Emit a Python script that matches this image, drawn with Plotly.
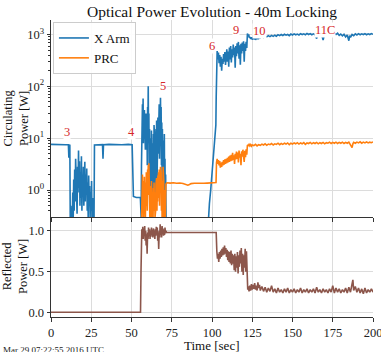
import math
import plotly.graph_objects as go

# ---------------- data ----------------
xarm_t = [0, 3, 6, 9, 10.8, 11.1, 11.4, 11.7, 12.0, 12.3, 12.6, 12.9, 13.2, 13.5, 13.8, 14.1, 14.4, 14.7,
          15.0, 15.3, 15.6, 15.9, 16.2, 16.5, 16.8, 17.1, 17.4, 17.7, 18.0, 18.3, 18.6, 18.9, 19.2, 19.5,
          19.8, 20.1, 20.4, 20.7, 21.0, 21.3, 21.6, 21.9, 22.2, 22.5, 22.8, 23.1, 23.4, 23.7, 24.0, 24.3,
          24.6, 24.9, 25.2, 25.5, 25.8, 26.1, 26.4, 26.7, 27.0, 30, 32.0, 32.3, 32.6, 36, 40, 44, 48, 50.4,
          51.2, 53, 55.5, 56.0,
          56.2, 56.4, 56.6, 56.8, 57.0, 57.2, 57.4, 57.6, 57.8, 58.0, 58.2, 58.4, 58.6, 58.8, 59.0, 59.2,
          59.4, 59.6, 59.8, 60.0, 60.2, 60.4, 60.6, 60.8, 61.0, 61.2, 61.4, 61.6, 61.8, 62.0, 62.2, 62.4,
          62.6, 62.8, 63.0, 63.2, 63.4, 63.6, 63.8, 64.0, 64.2, 64.4, 64.6, 64.8, 65.0, 65.2, 65.4, 65.6,
          65.8, 66.0, 66.2, 66.4, 66.6, 66.8, 67.0, 67.2, 67.4, 67.6, 67.8, 68.0, 68.2, 68.4, 68.6, 68.8,
          69.0, 69.2, 69.4, 69.6, 69.8, 70.0, 70.2, 70.4, 70.6, 70.8, 71.0, 71.2, 71.4, 71.6,
          97.0, 97.6, 98.4, 99.2, 100.0, 100.8, 101.5, 102.0, 102.4, 102.6, 102.8,
          103.2, 103.6, 104.0, 104.4, 104.8, 105.2, 105.6, 106.0, 106.4, 106.8, 107.2, 107.6, 108.0, 108.4,
          108.8, 109.2, 109.6, 110.0, 110.4, 110.8, 111.2, 111.6, 112.0, 112.4, 112.8, 113.2, 113.6, 114.0,
          114.4, 114.8, 115.2, 115.6, 116.0, 116.4, 116.8, 117.2, 117.6, 118.0, 118.4, 118.8, 119.2, 119.6,
          120.0, 120.4, 120.8, 121.2, 121.6, 122.0,
          122.4, 122.8, 123.2, 123.6, 124, 124.5, 125, 125.5, 126, 126.5, 127, 127.5, 128, 128.5, 129, 129.5,
          130, 131, 132, 133, 134, 135, 136, 137, 138, 139, 140, 141, 142, 143, 144, 145, 146, 147, 148, 149,
          150, 151, 152, 153, 154, 155, 156, 157, 158, 159, 160, 161, 162, 163, 164, 165, 165.5, 166, 167,
          168, 169, 169.5, 170, 171, 172, 173, 174, 175, 176, 177, 178, 179, 180, 181, 182, 183, 184, 185,
          185.5, 186, 187, 188, 189, 190, 191, 192, 193, 194, 195, 196, 197, 198, 199, 200]
xarm_w = [7.6, 7.5, 7.6, 7.5, 7.5, 4.2, 7.4, 7.3, 0.15, 0.5, 0.2, 0.45, 0.25, 0.9, 0.3, 1.6, 0.4, 2.5,
          0.6, 4.0, 0.8, 1.5, 0.35, 2.8, 0.9, 5.8, 1.1, 3.6, 0.5, 2.2, 0.7, 4.5, 0.4, 1.8,
          0.9, 2.8, 0.5, 1.2, 3.5, 0.6, 2.0, 0.8, 2.6, 0.4, 1.4, 0.3, 1.9, 0.6, 1.2, 0.3,
          0.9, 0.4, 1.5, 0.25, 0.7, 0.2, 0.5, 0.2, 7.4, 7.5, 7.5, 4.0, 7.5, 7.6, 7.5, 7.5, 7.6, 7.5,
          0.75, 0.72, 0.72, 0.3,
          3, 20, 6, 45, 10, 58, 8, 30, 25, 35, 12, 28, 6, 25, 30, 18,
          6, 30, 3, 40, 15, 100, 8, 30, 2, 15, 0.9, 10, 0.5, 6, 1.2, 14,
          0.6, 8, 0.4, 5, 1.0, 12, 0.7, 18, 2, 9, 0.5, 6, 1.5, 15, 3, 22,
          1, 10, 2.5, 25, 5, 35, 8, 45, 4, 28, 10, 60, 12, 40, 3, 20,
          1.5, 15, 0.8, 9, 0.5, 5, 1.2, 12, 0.6, 4, 0.4, 2, 0.3, 0.1,
          0.1, 0.3, 0.55, 1.0, 1.9, 3.6, 6.5, 11, 18, 60, 400,
          480, 330, 450, 280, 400, 240, 370, 200, 340, 270, 420, 300, 460, 260,
          380, 520, 300, 470, 240, 560, 330, 600, 290, 520, 360, 640, 400, 560,
          230, 600, 380, 680, 430, 720, 340, 620, 260, 660, 430, 700, 480, 740,
          300, 660, 480, 720, 550, 1050,
          920, 1000, 860, 900, 820, 880, 800, 860, 830, 900, 790, 860, 830, 880, 840, 900,
          870, 930, 880, 940, 900, 950, 910, 960, 920, 970, 930, 990, 950, 1000, 960, 1010, 970, 1000, 950, 1020,
          980, 1030, 990, 1020, 980, 1040, 1000, 1030, 990, 1050, 1000, 1040, 990, 1030, 1000, 830, 1000, 1040, 990,
          1030, 780, 1000, 1040, 990, 1030, 1000, 1040, 990, 1050, 1000, 1060, 960, 1020, 940, 1010, 900, 980, 760,
          950, 880, 1000, 950, 1030, 980, 1040, 990, 1030, 1000, 1040, 990, 1030, 1000, 1040, 1010]

prc_t = [56.0, 56.2, 56.4, 56.6, 56.8, 57.0, 57.2, 57.4, 57.6, 57.8, 58.0, 58.2, 58.4, 58.6, 58.8, 59.0,
         59.2, 59.4, 59.6, 59.8, 60.0, 60.2, 60.4, 60.6, 60.8, 61.0, 61.2, 61.4, 61.6, 61.8, 62.0, 62.2,
         62.4, 62.6, 62.8, 63.0, 63.2, 63.4, 63.6, 63.8, 64.0, 64.2, 64.4, 64.6, 64.8, 65.0, 65.2, 65.4,
         65.6, 65.8, 66.0, 66.2, 66.4, 66.6, 66.8, 67.0, 67.2, 67.4, 67.6, 67.8, 68.0, 68.2, 68.4, 68.6,
         68.8, 69.0, 69.2, 69.4, 69.6, 69.8, 70.0, 70.2, 70.4, 70.6, 70.8, 71.0, 71.2, 71.4, 72.0,
         74, 76, 78, 80, 82, 84, 85, 86, 87, 89, 91, 93, 95, 97, 99, 101, 102.5,
         102.8, 103.2, 103.6, 104.0, 104.4, 104.8, 105.2, 105.6, 106.0, 106.4, 106.8, 107.2, 107.6, 108.0,
         108.4, 108.8, 109.2, 109.6, 110.0, 110.4, 110.8, 111.2, 111.6, 112.0, 112.4, 112.8, 113.2, 113.6,
         114.0, 114.4, 114.8, 115.2, 115.6, 116.0, 116.4, 116.8, 117.2, 117.6, 118.0, 118.4, 118.8, 119.2,
         119.6, 120.0, 120.4, 120.8, 121.2, 121.6, 122.0,
         122.5, 123, 123.5, 124, 124.5, 125, 126, 127, 128, 129, 130, 131, 132, 133, 134, 135, 136, 137,
         138, 139, 140, 141, 142, 143, 144, 145, 146, 147, 148, 149, 150, 151, 152, 153, 154, 155, 156,
         157, 158, 159, 160, 161, 162, 163, 164, 165, 166, 167, 168, 169, 170, 171, 172, 173, 174, 175,
         176, 177, 178, 179, 180, 181, 182, 183, 184, 185, 186, 187, 187.5, 188, 189, 190, 191, 192, 193,
         194, 195, 196, 197, 198, 199, 200]
prc_w = [0.1, 0.4, 1.2, 0.3, 2.0, 0.5, 1.5, 0.25, 1.0, 0.4, 1.8, 0.3, 0.9, 0.2, 1.4, 0.5,
         2.2, 0.6, 1.6, 0.4, 2.5, 0.8, 3.0, 1.0, 3.3, 0.6, 2.4, 0.3, 1.2, 0.25, 0.9, 0.4,
         1.5, 0.3, 0.8, 0.25, 0.6, 0.3, 1.1, 0.4, 1.4, 0.5, 0.9, 0.3, 0.7, 0.4, 1.3, 0.5,
         1.7, 0.4, 1.0, 0.6, 1.9, 0.7, 2.2, 0.8, 2.5, 0.5, 1.6, 0.9, 2.8, 1.0, 2.2, 0.4,
         1.5, 0.3, 1.2, 0.25, 2.8, 0.5, 1.6, 0.3, 1.0, 0.2, 0.8, 0.3, 0.7, 1.3, 1.38,
         1.36, 1.38, 1.35, 1.37, 1.34, 1.3, 1.24, 1.28, 1.33, 1.35, 1.34, 1.36, 1.35, 1.36, 1.37, 1.36, 1.4,
         3.4, 4.0, 3.2, 3.8, 3.0, 3.6, 2.7, 3.4, 2.8, 3.5, 3.0, 3.8, 3.1, 3.9,
         3.2, 4.0, 3.3, 4.2, 3.4, 4.4, 3.5, 4.6, 3.6, 4.8, 3.7, 5.2, 3.8, 4.7,
         3.2, 5.0, 3.9, 5.5, 4.0, 5.3, 3.4, 5.8, 4.2, 5.0, 3.0, 5.6, 4.4, 6.0,
         4.5, 3.5, 5.7, 4.3, 6.1, 4.8, 7.4,
         7.2, 7.6, 7.1, 7.5, 7.0, 7.4, 7.2, 7.6, 7.1, 7.5, 7.3, 7.7, 7.4, 7.8, 7.3, 7.7, 7.5, 7.9,
         7.4, 7.8, 7.6, 8.0, 7.5, 7.9, 7.6, 8.0, 7.7, 8.1, 7.5, 8.0, 7.7, 8.1, 7.8, 8.2, 7.7, 8.1, 7.8,
         8.2, 7.6, 8.1, 7.9, 8.3, 7.8, 8.2, 7.9, 8.3, 7.8, 8.2, 7.9, 8.3, 7.8, 8.2, 8.0, 8.4, 7.9, 8.3,
         8.0, 8.4, 7.9, 8.3, 8.0, 8.4, 7.9, 8.3, 8.0, 8.4, 7.6, 6.6, 7.8, 8.3, 8.0, 8.4, 8.1, 8.5, 8.0,
         8.4, 8.1, 8.5, 8.1, 8.4, 8.2, 8.5]

refl_t = [0, 20, 40, 55.6, 55.9, 56.2,
          56.4, 56.7, 57.0, 57.3, 57.6, 57.9, 58.2, 58.5, 58.8, 59.1, 59.4, 59.7, 60.0, 60.3, 60.6, 60.9,
          61.2, 61.5, 61.8, 62.1, 62.4, 62.7, 63.0, 63.3, 63.6, 63.9, 64.2, 64.5, 64.8, 65.1, 65.4, 65.7,
          66.0, 66.3, 66.6, 66.9, 67.2, 67.5, 67.8, 68.1, 68.4, 68.7, 69.0, 69.3, 69.6, 69.9, 70.2, 70.5,
          70.8, 71.1, 71.4, 71.8,
          75, 80, 85, 90, 95, 100, 102.6, 103.0,
          103.4, 103.8, 104.2, 104.6, 105.0, 105.4, 105.8, 106.2, 106.6, 107.0, 107.4, 107.8, 108.2, 108.6,
          109.0, 109.4, 109.8, 110.2, 110.6, 111.0, 111.4, 111.8, 112.2, 112.6, 113.0, 113.4, 113.8, 114.2,
          114.6, 115.0, 115.4, 115.8, 116.2, 116.6, 117.0, 117.4, 117.8, 118.2, 118.6, 119.0, 119.4, 119.8,
          120.2, 120.6, 121.0, 121.4, 121.8, 122.2,
          122.6, 123.0, 123.5, 124, 124.5, 125, 125.5, 126, 126.5, 127, 127.5, 128, 128.5, 129, 129.5,
          130, 131, 132, 133, 134, 135, 136, 137, 138, 139, 140, 141, 142, 143, 144, 145, 146, 147, 148,
          149, 150, 151, 152, 153, 154, 155, 156, 157, 158, 159, 160, 161, 162, 163, 164, 165, 166, 167,
          168, 169, 170, 171, 172, 173, 174, 175, 176, 177, 178, 179, 180, 181, 182, 183, 184, 185, 186,
          187, 187.5, 188, 189, 190, 191, 192, 193, 194, 195, 196, 197, 198, 199, 200]
refl_w = [0.005, 0.005, 0.005, 0.005, 0.5, 0.95,
          1.02, 0.92, 1.05, 0.9, 1.03, 0.95, 1.06, 0.88, 1.0, 0.82, 0.96, 0.72, 0.98, 0.9, 1.04, 0.94,
          1.02, 0.9, 1.0, 0.93, 1.04, 0.95, 1.01, 0.92, 1.03, 0.96, 1.0, 0.9, 1.02, 0.94, 1.05, 0.96,
          1.04, 0.88, 0.98, 0.78, 1.0, 0.92, 1.08, 0.95, 1.04, 0.92, 1.06, 0.96, 1.03, 0.94, 1.01, 0.95,
          1.04, 0.97, 1.0, 0.98,
          0.98, 0.98, 0.98, 0.98, 0.98, 0.98, 0.98, 0.75,
          0.66, 0.72, 0.62, 0.74, 0.66, 0.76, 0.68, 0.78, 0.7, 0.8, 0.71, 0.82, 0.72, 0.79,
          0.68, 0.77, 0.64, 0.75, 0.62, 0.74, 0.6, 0.76, 0.58, 0.72, 0.6, 0.7, 0.52, 0.72,
          0.5, 0.69, 0.55, 0.74, 0.48, 0.7, 0.56, 0.76, 0.6, 0.79, 0.5, 0.72, 0.46, 0.7,
          0.55, 0.78, 0.5, 0.75, 0.6, 0.28,
          0.32, 0.26, 0.33, 0.27, 0.35, 0.28, 0.34, 0.29, 0.36, 0.28, 0.33, 0.27, 0.37, 0.3, 0.34,
          0.27, 0.32, 0.26, 0.31, 0.25, 0.3, 0.26, 0.33, 0.25, 0.29, 0.24, 0.3, 0.25, 0.28, 0.24, 0.29, 0.25, 0.3, 0.24,
          0.28, 0.25, 0.29, 0.24, 0.28, 0.25, 0.3, 0.24, 0.28, 0.25, 0.29, 0.24, 0.28, 0.25, 0.29, 0.24, 0.31, 0.25, 0.28,
          0.24, 0.29, 0.25, 0.28, 0.24, 0.29, 0.25, 0.33, 0.24, 0.3, 0.25, 0.29, 0.24, 0.28, 0.25, 0.3, 0.24, 0.31, 0.25,
          0.35, 0.4, 0.27, 0.32, 0.25, 0.3, 0.24, 0.29, 0.23, 0.3, 0.24, 0.28, 0.25, 0.29, 0.25]

stage_labels = ["3", "4", "5", "6", "9", "10", "11C"]
stage_t = [9.8, 49.7, 69.6, 99.7, 114.9, 129.8, 170.2]
stage_w = [13.1, 13.1, 101, 600, 1220, 1190, 1220]

x_ticks = [0, 25, 50, 75, 100, 125, 150, 175, 200]
top_ticks = [1, 10, 100, 1000]
top_ticktext = ["10<sup>0</sup>", "10<sup>1</sup>", "10<sup>2</sup>", "10<sup>3</sup>"]
bot_ticks = [0.0, 0.5, 1.0]
bot_ticktext = ["0.0", "0.5", "1.0"]

# ---------------- figure ----------------
FONT = "Liberation Serif"
AX = "#333333"
GRID = "#dcdcdc"
BLUE, ORANGE, BROWN, RED = "#1f77b4", "#ff7f0e", "#8c564b", "#d62728"

fig = go.Figure()
fig.add_trace(go.Scatter(x=xarm_t, y=xarm_w, mode="lines", name="X Arm",
                         line=dict(color=BLUE, width=1.6), xaxis="x2", yaxis="y2"))
fig.add_trace(go.Scatter(x=prc_t, y=prc_w, mode="lines", name="PRC",
                         line=dict(color=ORANGE, width=1.6), xaxis="x2", yaxis="y2"))
fig.add_trace(go.Scatter(x=refl_t, y=refl_w, mode="lines", name="Reflected", showlegend=False,
                         line=dict(color=BROWN, width=1.6), xaxis="x", yaxis="y"))

split = 100 / 297
minor_vals = [m * 10 ** k for k in range(-1, 4) for m in range(2, 10)]
TICKFONT = dict(family=FONT, size=12.5, color="#222")

common_x = dict(range=[0, 200], tickvals=x_ticks, showgrid=True, gridcolor=GRID, gridwidth=1,
                zeroline=False, showline=True, linecolor=AX, linewidth=1, ticklabeloverflow="allow",
                automargin=False, ticks="outside", ticklen=3.5, tickcolor=AX, tickfont=TICKFONT)

fig.update_layout(
    width=381, height=352,
    margin=dict(l=51, r=8, t=20, b=35, autoexpand=False),
    paper_bgcolor="white", plot_bgcolor="white",
    font=dict(family=FONT, size=12, color="#222"),
    title=dict(text="Optical Power Evolution - 40m Locking", x=(51 + 161) / 381, xanchor="center",
               y=1 - 12 / 352, yanchor="middle", font=dict(family=FONT, size=15.5, color="#111")),
    xaxis=dict(common_x, anchor="y", domain=[0, 1]),
    xaxis2=dict(common_x, anchor="y2", domain=[0, 1], matches="x", showticklabels=False),
    yaxis=dict(domain=[0, split], range=[-0.054, 1.17], tickvals=bot_ticks, ticktext=bot_ticktext,
               showgrid=True, gridcolor=GRID, zeroline=False, showline=True, linecolor=AX, automargin=False,
               ticks="outside", ticklen=3.5, tickcolor=AX, tickfont=TICKFONT),
    yaxis2=dict(domain=[split, 1], type="log", range=[-0.52, 3.28], tickvals=top_ticks,
                ticktext=top_ticktext, showgrid=True, gridcolor=GRID, zeroline=False, showline=True,
                linecolor=AX, ticks="outside", ticklen=3.5, tickcolor=AX, tickfont=TICKFONT, automargin=False,
                minor=dict(tickvals=minor_vals, ticks="outside", ticklen=2, tickcolor=AX, showgrid=False)),
    legend=dict(x=0.006, y=1 - 2 / 297, xanchor="left", yanchor="top", bgcolor="rgba(255,255,255,0.9)",
                bordercolor="#cccccc", borderwidth=1, font=dict(family=FONT, size=13, color="#111"),
                tracegroupgap=0, itemwidth=30),
    showlegend=True,
)

for lab, t, w in zip(stage_labels, stage_t, stage_w):
    fig.add_annotation(x=t, y=math.log10(w), xref="x2", yref="y2", text=lab, showarrow=False,
                       font=dict(family=FONT, size=12.5, color=RED), bgcolor="white", borderpad=0,
                       xanchor="center", yanchor="middle")

fig.add_annotation(x=(15 - 51) / 322, y=(split + 1) / 2, xref="paper", yref="paper",
                   text="Circulating<br>Power [W]", textangle=-90, showarrow=False,
                   font=dict(family=FONT, size=12.5, color="#111"), xanchor="center", yanchor="middle")
fig.add_annotation(x=(15 - 51) / 322, y=split / 2, xref="paper", yref="paper",
                   text="Reflected<br>Power [W]", textangle=-90, showarrow=False,
                   font=dict(family=FONT, size=12.5, color="#111"), xanchor="center", yanchor="middle")
fig.add_annotation(x=0.5, y=(317 - 345.5) / 297, xref="paper", yref="paper", text="Time [sec]",
                   showarrow=False, font=dict(family=FONT, size=13, color="#111"),
                   xanchor="center", yanchor="middle")
fig.add_annotation(x=(106 - 51) / 322, y=(317 - 350) / 297, xref="paper", yref="paper",
                   text="Mar 29 07:22:55 2016 UTC", showarrow=False,
                   font=dict(family=FONT, size=9, color="#222"), xanchor="right", yanchor="middle")

fig.write_html("out.html")
